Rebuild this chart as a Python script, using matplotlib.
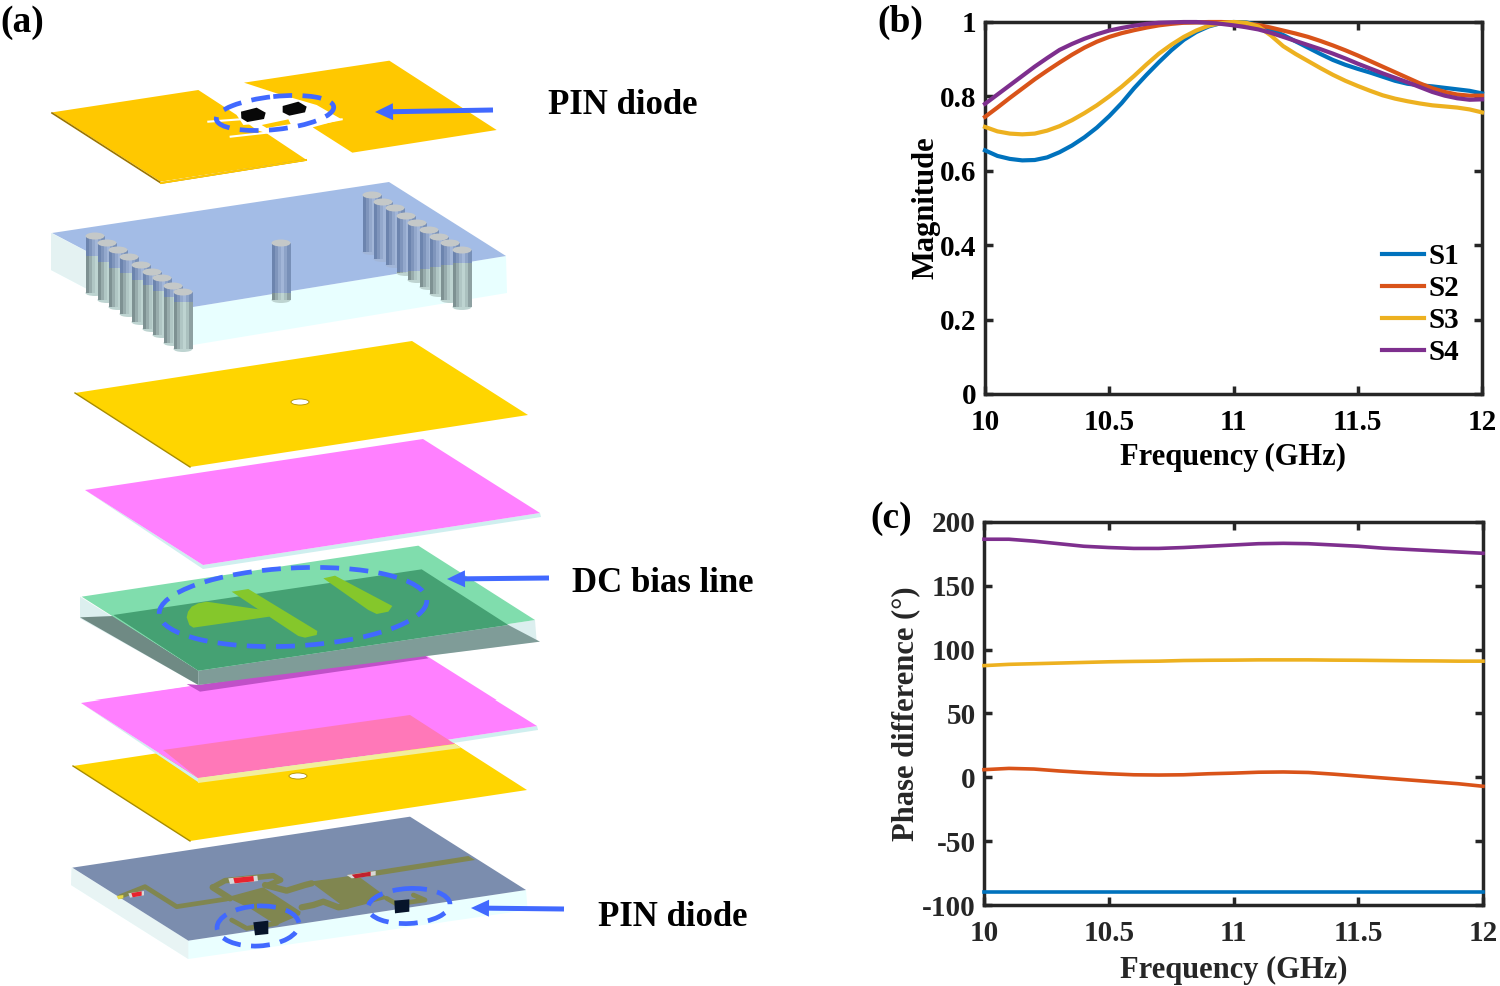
import matplotlib
matplotlib.use("Agg")
import matplotlib.pyplot as plt
from matplotlib.patches import Polygon, Ellipse, Rectangle

plt.rcParams["font.family"] = ["Liberation Serif", "DejaVu Serif"]
plt.rcParams["font.weight"] = "bold"
plt.rcParams["axes.labelweight"] = "bold"

# 1 - Data

freq_b = [10.0, 10.05, 10.1, 10.15, 10.2, 10.25, 10.3, 10.35, 10.4, 10.45, 10.5,
          10.55, 10.6, 10.65, 10.7, 10.75, 10.8, 10.85, 10.9, 10.95, 11.0,
          11.05, 11.1, 11.15, 11.2, 11.25, 11.3, 11.35, 11.4, 11.45, 11.5,
          11.55, 11.6, 11.65, 11.7, 11.75, 11.8, 11.85, 11.9, 11.95, 12.0]

mag_s1 = [0.655, 0.640, 0.632, 0.628, 0.629, 0.636, 0.650, 0.668, 0.690, 0.716, 0.747,
          0.782, 0.822, 0.858, 0.892, 0.924, 0.952, 0.973, 0.988, 0.997, 1.000,
          0.999, 0.992, 0.980, 0.965, 0.948, 0.931, 0.914, 0.898, 0.885, 0.874,
          0.864, 0.853, 0.842, 0.834, 0.830, 0.827, 0.823, 0.819, 0.815, 0.808]
mag_s2 = [0.745, 0.770, 0.796, 0.821, 0.846, 0.869, 0.891, 0.912, 0.931, 0.947, 0.960,
          0.970, 0.978, 0.985, 0.991, 0.995, 0.998, 0.999, 1.000, 1.000, 0.999,
          0.996, 0.992, 0.985, 0.977, 0.969, 0.960, 0.949, 0.937, 0.924, 0.910,
          0.895, 0.880, 0.865, 0.850, 0.835, 0.822, 0.812, 0.805, 0.802, 0.802]
mag_s3 = [0.718, 0.706, 0.700, 0.698, 0.700, 0.708, 0.720, 0.736, 0.755, 0.776, 0.800,
          0.826, 0.855, 0.886, 0.915, 0.939, 0.960, 0.977, 0.990, 0.997, 1.000,
          0.998, 0.988, 0.964, 0.935, 0.914, 0.895, 0.876, 0.858, 0.842, 0.828,
          0.815, 0.803, 0.794, 0.787, 0.781, 0.776, 0.773, 0.770, 0.765, 0.757]
mag_s4 = [0.780, 0.805, 0.830, 0.855, 0.880, 0.903, 0.925, 0.941, 0.955, 0.967, 0.977,
          0.984, 0.990, 0.995, 0.998, 0.999, 1.000, 1.000, 0.998, 0.995, 0.991,
          0.986, 0.980, 0.971, 0.960, 0.949, 0.938, 0.927, 0.915, 0.902, 0.888,
          0.875, 0.862, 0.850, 0.838, 0.825, 0.812, 0.802, 0.795, 0.791, 0.792]

freq_c = [10.0, 10.1, 10.2, 10.3, 10.4, 10.5, 10.6, 10.7, 10.8, 10.9, 11.0,
          11.1, 11.2, 11.3, 11.4, 11.5, 11.6, 11.7, 11.8, 11.9, 12.0]
ph_s1 = [-90, -90, -90, -90, -90, -90, -90, -90, -90, -90, -90,
         -90, -90, -90, -90, -90, -90, -90, -90, -90, -90]
ph_s2 = [6.0, 7.0, 6.5, 5.0, 3.8, 2.8, 2.0, 1.8, 2.0, 2.8, 3.3,
         4.0, 4.2, 3.8, 2.5, 1.0, -0.5, -2.0, -3.5, -5.0, -7.0]
ph_s3 = [87.5, 88.5, 89.0, 89.5, 90.0, 90.5, 90.8, 91.0, 91.5, 91.7, 91.8,
         92.0, 92.0, 92.0, 91.8, 91.7, 91.5, 91.3, 91.2, 91.0, 91.0]
ph_s4 = [186.5, 186.5, 185.0, 183.0, 181.0, 180.0, 179.3, 179.3, 180.0, 181.0, 182.0,
         183.0, 183.3, 183.0, 182.0, 181.0, 179.5, 178.5, 177.5, 176.5, 175.5]

series_names = ["S1", "S2", "S3", "S4"]
COLORS = ["#0072BD", "#D95319", "#EDB120", "#7E2F8E"]
INK = "#262626"
BLUE = "#4169FF"

W, H = 1500, 986
fig = plt.figure(figsize=(W / 100, H / 100), dpi=100, facecolor="white")

# 2 - Panel (a), drawn in picture pixels

sk = fig.add_axes([0, 0, 1, 1])
sk.set_xlim(0, W)
sk.set_ylim(H, 0)
sk.axis("off")


def poly(pts, color, z=1, alpha=None):
    sk.add_patch(Polygon(pts, closed=True, facecolor=color, edgecolor="none", alpha=alpha, zorder=z))


def zm(pts, ox, oy):
    # points measured on a 3x crop, back to picture pixels
    return [(ox + x / 3, oy + y / 3) for x, y in pts]


def cylinder(x, top, split, height=57, w=19):
    bottom = top + height
    cols_up = ["#6C84AE", "#7F95BC", "#93A8CC", "#A2B6D8", "#8DA3C8", "#7890B8"]
    cols_lo = ["#7E9192", "#98ACAC", "#B0C6C4", "#BED4D1", "#ABC1BF", "#8EA1A2"]
    split = min(max(split, top), bottom)
    for i in range(6):
        xi = x - w / 2 + i * w / 6
        sk.add_patch(Rectangle((xi, top), w / 6 + 0.3, split - top, fc=cols_up[i], ec="none", zorder=4))
        sk.add_patch(Rectangle((xi, split), w / 6 + 0.3, bottom - split, fc=cols_lo[i], ec="none", zorder=4))
    sk.add_patch(Ellipse((x, bottom), w, 6, fc=cols_lo[3] if split < bottom else cols_up[3], ec="none", zorder=3.9))
    sk.add_patch(Ellipse((x, top), w, 7, fc="#C4C8C8", ec="none", zorder=4.1))


# top patches
left_patch = zm([(37, 187), (475, 120), (590, 195), (650, 240), (680, 250), (797, 328), (362, 395)], 40, 50)
right_patch = zm([(612, 98), (1048, 32), (1370, 240), (937, 308), (818, 232), (905, 208), (830, 165), (710, 130)], 40, 50)
poly(left_patch, "#FFC800")
poly(right_patch, "#FFC800")
sk.plot([52, 161, 306], [113, 183, 160], color="#9A7400", lw=1.2, zorder=1.1)
sk.plot([161, 306], [183, 160], color="#FFC800", lw=1.4, zorder=1.15)
for seg in ([(505, 215), (600, 208)], [(572, 260), (680, 248)], [(830, 222), (905, 208)]):
    p = zm(seg, 40, 50)
    sk.plot([p[0][0], p[1][0]], [p[0][1], p[1][1]], color="white", lw=1.5, zorder=1.2)
poly(zm([(590, 195), (690, 205), (690, 218), (610, 225)], 40, 50), "white", 1.3)
poly(zm([(712, 190), (815, 178), (820, 195), (735, 212)], 40, 50), "white", 1.3)
poly(zm([(665, 225), (745, 208), (752, 222), (680, 234)], 40, 50), "#FFC800", 1.4)
poly(zm([(603, 185), (650, 173), (677, 188), (672, 207), (622, 216), (604, 205)], 40, 50), "#080808", 2)
poly(zm([(728, 168), (775, 155), (800, 170), (795, 187), (748, 197), (728, 187)], 40, 50), "#080808", 2)

# substrate with vias
poly([(51, 233), (51, 270), (193, 345), (507, 293), (506, 256), (193, 307)], "#E8FFFF", 1)
poly([(51, 233), (51, 270), (175, 335), (193, 307)], "#E4F2F2", 1.1)
poly([(52, 233), (389, 182), (506, 256), (193, 307)], "#A3BCE6", 2)

via_left_x = [95, 107, 118, 129, 141, 152, 162, 173, 183]
via_left_top = [236, 243, 250, 257, 265, 272, 278, 286, 292]
via_right_x = [372, 383, 395, 406, 417, 429, 439, 450, 462]
via_right_top = [195, 202, 208, 216, 223, 230, 237, 243, 250]


def front_edge(x):
    if x < 193:
        return 233 + (x - 52) * (307 - 233) / (193 - 52)
    return 307 + (x - 193) * (256 - 307) / (506 - 193)


for x, t in zip(via_right_x, via_right_top):
    cylinder(x, t, front_edge(x))
cylinder(281, 243, front_edge(281))
for x, t in zip(via_left_x, via_left_top):
    cylinder(x, t, front_edge(x))

# gold ground
poly([(75, 393), (412, 341), (528, 415), (190, 467)], "#FFD500")
sk.plot([75, 190], [393, 467], color="#A88C00", lw=1.0, zorder=1.1)
sk.add_patch(Ellipse((300, 402), 18, 6, fc="white", ec="#B09000", lw=0.6, zorder=1.2))

# pink layer
poly([(85, 490), (203, 569), (541, 517), (540, 513), (203, 565), (85, 490)], "#CFEFEF")
poly([(85, 490), (423, 439), (540, 513), (203, 565)], "#FF80FF", 1.1)

# second pink and gold pair
poly([(73, 766), (410, 715), (527, 790), (190, 841)], "#FFD500", 0.8)
sk.plot([73, 190], [766, 841], color="#A88C00", lw=1.0, zorder=0.9)
sk.add_patch(Ellipse((298, 776), 18, 6, fc="white", ec="#B09000", lw=0.6, zorder=0.95))
poly([(81, 703), (198, 782), (538, 730), (537, 726), (198, 778)], "#CFEFEF", 1)
poly([(81, 703), (418, 652), (537, 726), (198, 778)], "#FF80FF", 1.1)
poly([(163, 750), (410, 715), (455, 744), (198, 778)], "#FF78B8", 1.2)
poly([(198, 778), (455, 744), (461, 748), (198, 783)], "#F2EE9C", 1.2)

# green bias board
g = lambda pts: zm(pts, 60, 530)
poly(g([(60, 200), (60, 265), (415, 465), (1430, 335), (1425, 270), (415, 422)]), "#DCEFEF", 2)
poly(g([(60, 262), (415, 465), (415, 422), (160, 258)]), "#6F8A84", 2.1)
poly(g([(415, 422), (415, 465), (1440, 335), (1345, 285)]), "#7F9C98", 2.1)
poly(g([(65, 200), (1075, 47), (1425, 270), (415, 422)]), "#80DDAD", 2.2)
poly(g([(160, 255), (1085, 118), (1345, 285), (415, 422)]), "#45A173", 2.3)
poly(g([(105, 510), (415, 465), (1080, 365), (1310, 510)]), "#FF80FF", 1.2, 1)
poly(g([(415, 465), (1080, 365), (1105, 385), (420, 485), (380, 462)]), "#C050C8", 2.05)
poly(g([(515, 185), (565, 177), (772, 303), (770, 315), (735, 323), (715, 318)]), "#85C72B", 2.5)
poly(g([(380, 262), (384, 245), (395, 230), (415, 220), (440, 215), (610, 240), (628, 260),
        (400, 293), (388, 285)]), "#85C72B", 2.5)
poly(g([(790, 145), (825, 137), (997, 228), (985, 245), (950, 252), (925, 240)]), "#85C72B", 2.5)

# bottom circuit board
b = lambda pts: zm(pts, 60, 810)
poly(b([(35, 173), (33, 225), (385, 447), (1403, 300), (1398, 240), (385, 392)]), "#EAFFFF", 1)
poly(b([(35, 173), (33, 225), (385, 447), (385, 392)]), "#E8F4F4", 1.1)
poly(b([(37, 173), (1050, 20), (1398, 240), (385, 392)]), "#7B8DAE", 1.2)
OLIVE = "#808650"
poly(b([(860, 195), (1225, 138), (1245, 150), (930, 200)]), OLIVE, 2)
poly(b([(750, 215), (890, 195), (985, 265), (860, 297), (835, 278)]), OLIVE, 2)
poly(b([(500, 262), (610, 232), (722, 305), (720, 315), (650, 345), (625, 330), (570, 295)]), OLIVE, 2)
for seg, lw in (
    ([(458, 232), (510, 265)], 4.5),
    ([(458, 232), (495, 212), (640, 197), (662, 210), (625, 225)], 4),
    ([(180, 260), (255, 230), (350, 290), (500, 267)], 3.4),
    ([(615, 225), (680, 242), (735, 225), (755, 220)], 4.5),
    ([(725, 292), (760, 285), (790, 275), (835, 292), (860, 288)], 4.5),
    ([(515, 330), (560, 355), (650, 340)], 3.4),
    ([(980, 265), (1010, 282), (1095, 270), (1060, 255)], 3.4),
):
    p = b(seg)
    sk.plot([q[0] for q in p], [q[1] for q in p], color=OLIVE, lw=lw, zorder=2, solid_capstyle="round")
poly(b([(505, 205), (592, 197), (594, 213), (510, 222)]), "#D8D8D8", 2.9)
poly(b([(520, 204), (580, 198), (582, 214), (524, 220)]), "#E8232E", 3)
poly(b([(860, 195), (947, 183), (947, 196), (875, 205)]), "#D8D8D8", 2.9)
poly(b([(875, 194), (932, 185), (932, 198), (885, 205)]), "#C2202E", 3)
poly(b([(205, 250), (252, 243), (252, 256), (210, 263)]), "#D8D8D8", 2.9)
poly(b([(214, 249), (245, 244), (245, 257), (218, 262)]), "#E8232E", 3)
poly(b([(580, 337), (625, 332), (625, 372), (585, 376)]), "#06142A", 3)
poly(b([(1003, 272), (1048, 268), (1048, 305), (1005, 310)]), "#06142A", 3)
poly(b([(170, 258), (190, 255), (190, 265), (175, 268)]), "#E6D84A", 3)

# dashed rings
ring_kw = dict(fill=False, ec=BLUE, lw=3.4, ls=(0, (4.0, 2.2)), zorder=6)
sk.add_patch(Ellipse((275, 113), 118, 33, angle=-6, **ring_kw))
sk.add_patch(Ellipse((293, 607), 268, 78, angle=-3, **ring_kw))
sk.add_patch(Ellipse((258, 926), 82, 40, angle=-3, **ring_kw))
sk.add_patch(Ellipse((409, 906), 82, 35, angle=-3, **ring_kw))

# arrows
for x0, y0, x1, y1 in ((493, 110, 375, 112), (549, 578, 447, 579), (564, 909, 471, 908)):
    sk.arrow(x0, y0, x1 - x0, y1 - y0, width=5, head_width=17, head_length=18,
             length_includes_head=True, fc=BLUE, ec="none", zorder=7)

sk.text(548, 105, "PIN diode", fontsize=25, va="center", ha="left", color="black")
sk.text(572, 583, "DC bias line", fontsize=25, va="center", ha="left", color="black")
sk.text(598, 917, "PIN diode", fontsize=25, va="center", ha="left", color="black")
sk.text(0, 22, "(a)", fontsize=27, va="center", ha="left", color="black")
sk.text(877, 22, "(b)", fontsize=27, va="center", ha="left", color="black")
sk.text(870, 518, "(c)", fontsize=27, va="center", ha="left", color="black")


# 3 - Panels (b) and (c)

def axes_px(left, right, top, bottom):
    return fig.add_axes([left / W, 1 - bottom / H, (right - left) / W, (bottom - top) / H])


def style(ax, color):
    for s in ax.spines.values():
        s.set_linewidth(2.5)
        s.set_color(INK)
    ax.tick_params(direction="in", top=True, right=True, length=5.5, width=2.5,
                   color=INK, labelsize=21, labelcolor=color, pad=6)
    ax.tick_params(axis="x", pad=11)
    ax.set_xlim(10, 12)
    ax.set_xticks([10, 10.5, 11, 11.5, 12])
    ax.set_xticklabels(["10", "10.5", "11", "11.5", "12"])


ax_b = axes_px(985, 1482, 22, 394)
for vals, name, col in zip([mag_s1, mag_s2, mag_s3, mag_s4], series_names, COLORS):
    ax_b.plot(freq_b, vals, color=col, lw=3.0, label=name, clip_on=False, zorder=3)
style(ax_b, "black")
ax_b.set_ylim(0, 1)
ax_b.set_yticks([0, 0.2, 0.4, 0.6, 0.8, 1])
ax_b.set_yticklabels(["0", "0.2", "0.4", "0.6", "0.8", "1"])
ax_b.set_xlabel("Frequency\u2009(GHz)", fontsize=22, color="black", labelpad=5)
ax_b.set_ylabel("Magnitude", fontsize=22, color="black", labelpad=0)
ax_b.legend(loc="lower right", bbox_to_anchor=(0.955, 0.075), frameon=False, fontsize=21,
            handlelength=1.45, handletextpad=0.17, labelspacing=0.17, borderpad=0, borderaxespad=0)

ax_c = axes_px(984, 1483, 522, 905)
for vals, name, col in zip([ph_s1, ph_s2, ph_s3, ph_s4], series_names, COLORS):
    ax_c.plot(freq_c, vals, color=col, lw=2.6, clip_on=False, zorder=3)
style(ax_c, INK)
ax_c.set_ylim(-100, 200)
ax_c.set_yticks([-100, -50, 0, 50, 100, 150, 200])
ax_c.set_yticklabels(["-100", "-50", "0", "50", "100", "150", "200"])
ax_c.set_xlabel("Frequency (GHz)", fontsize=22, color=INK, labelpad=6)
ax_c.set_ylabel("Phase difference (\u00b0)", fontsize=22, color=INK, labelpad=1)

fig.savefig("out.png", dpi=100, facecolor="white")
plt.close(fig)
